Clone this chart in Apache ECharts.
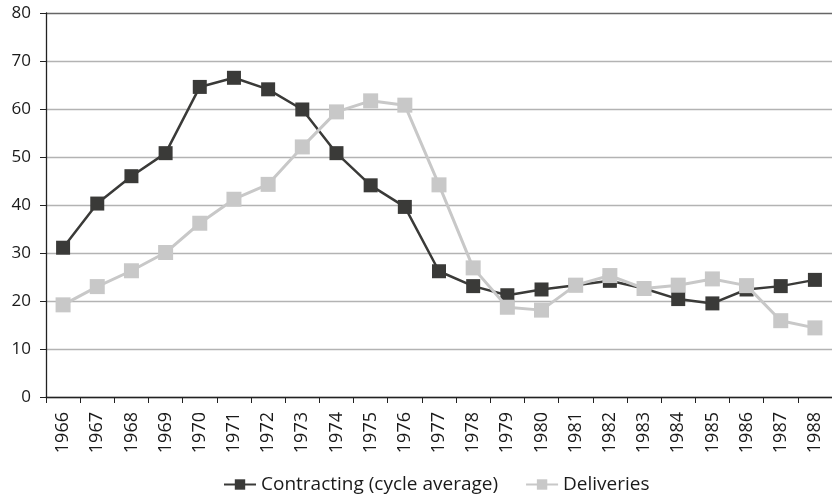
<!DOCTYPE html>
<html>
<head>
<meta charset="utf-8">
<script src="https://cdn.jsdelivr.net/npm/echarts@6/dist/echarts.min.js"></script>
<style>
  html, body { margin: 0; padding: 0; background: #fff; }
  #chart { width: 832px; height: 497px; }
</style>
</head>
<body>
<div id="chart"></div>
<script>
// Shipbuilding contracting vs. deliveries, 1966-1988
const years = ['1966','1967','1968','1969','1970','1971','1972','1973','1974','1975','1976','1977',
               '1978','1979','1980','1981','1982','1983','1984','1985','1986','1987','1988'];
const contracting = [31.1, 40.3, 46.0, 50.8, 64.6, 66.5, 64.1, 59.9, 50.8, 44.1, 39.6, 26.2,
                     23.1, 21.2, 22.4, 23.3, 24.2, 22.6, 20.4, 19.5, 22.4, 23.1, 24.4];
const deliveries = [19.2, 23.0, 26.3, 30.1, 36.2, 41.2, 44.3, 52.1, 59.4, 61.7, 60.8, 44.2,
                    26.9, 18.7, 18.1, 23.3, 25.3, 22.6, 23.3, 24.6, 23.2, 15.9, 14.4];
const yTicks = { min: 0, max: 80, step: 10 };

const FONT = '"Open Sans", "Noto Sans", sans-serif';
const TEXT = '#1a1a1a';

// gridline colours per tick (0..80): the top border is drawn darker
const gridColors = [];
for (let v = yTicks.min; v <= yTicks.max; v += yTicks.step) {
  gridColors.push(v === yTicks.max ? '#666666' : '#b3b3b3');
}

const chart = echarts.init(document.getElementById('chart'), null, { renderer: 'canvas' });
chart.setOption({
  animation: false,
  backgroundColor: '#fff',
  grid: { left: 46, right: -6, top: 13, bottom: 100, containLabel: false },
  legend: {
    bottom: -2,
    left: 218,
    itemWidth: 32,
    itemHeight: 13,
    itemGap: 27,
    textStyle: { fontFamily: FONT, fontSize: 19, color: TEXT },
    data: ['Contracting (cycle average)', 'Deliveries']
  },
  xAxis: {
    type: 'category',
    data: years,
    boundaryGap: true,
    axisLine: { lineStyle: { color: '#222', width: 1.3 } },
    axisTick: { show: true, interval: 0, length: 6, lineStyle: { color: '#222' } },
    axisLabel: { interval: 0, rotate: 90, margin: 15, fontFamily: FONT, fontSize: 18, color: TEXT }
  },
  yAxis: {
    type: 'value',
    min: yTicks.min,
    max: yTicks.max,
    interval: yTicks.step,
    axisLine: { show: true, lineStyle: { color: '#222', width: 1.3 } },
    axisTick: { show: true, length: 6, lineStyle: { color: '#222' } },
    axisLabel: { margin: 15, fontFamily: FONT, fontSize: 17, color: TEXT },
    splitLine: { lineStyle: { color: gridColors, width: 1.4 } }
  },
  series: [
    {
      name: 'Contracting (cycle average)',
      type: 'line',
      data: contracting,
      symbol: 'rect',
      symbolSize: 14,
      lineStyle: { color: '#3a3a38', width: 2.5 },
      itemStyle: { color: '#3a3a38' },
      z: 2
    },
    {
      name: 'Deliveries',
      type: 'line',
      data: deliveries,
      symbol: 'rect',
      symbolSize: 15,
      lineStyle: { color: '#c8c8c8', width: 3 },
      itemStyle: { color: '#c8c8c8' },
      z: 3
    }
  ]
});
</script>
</body>
</html>
